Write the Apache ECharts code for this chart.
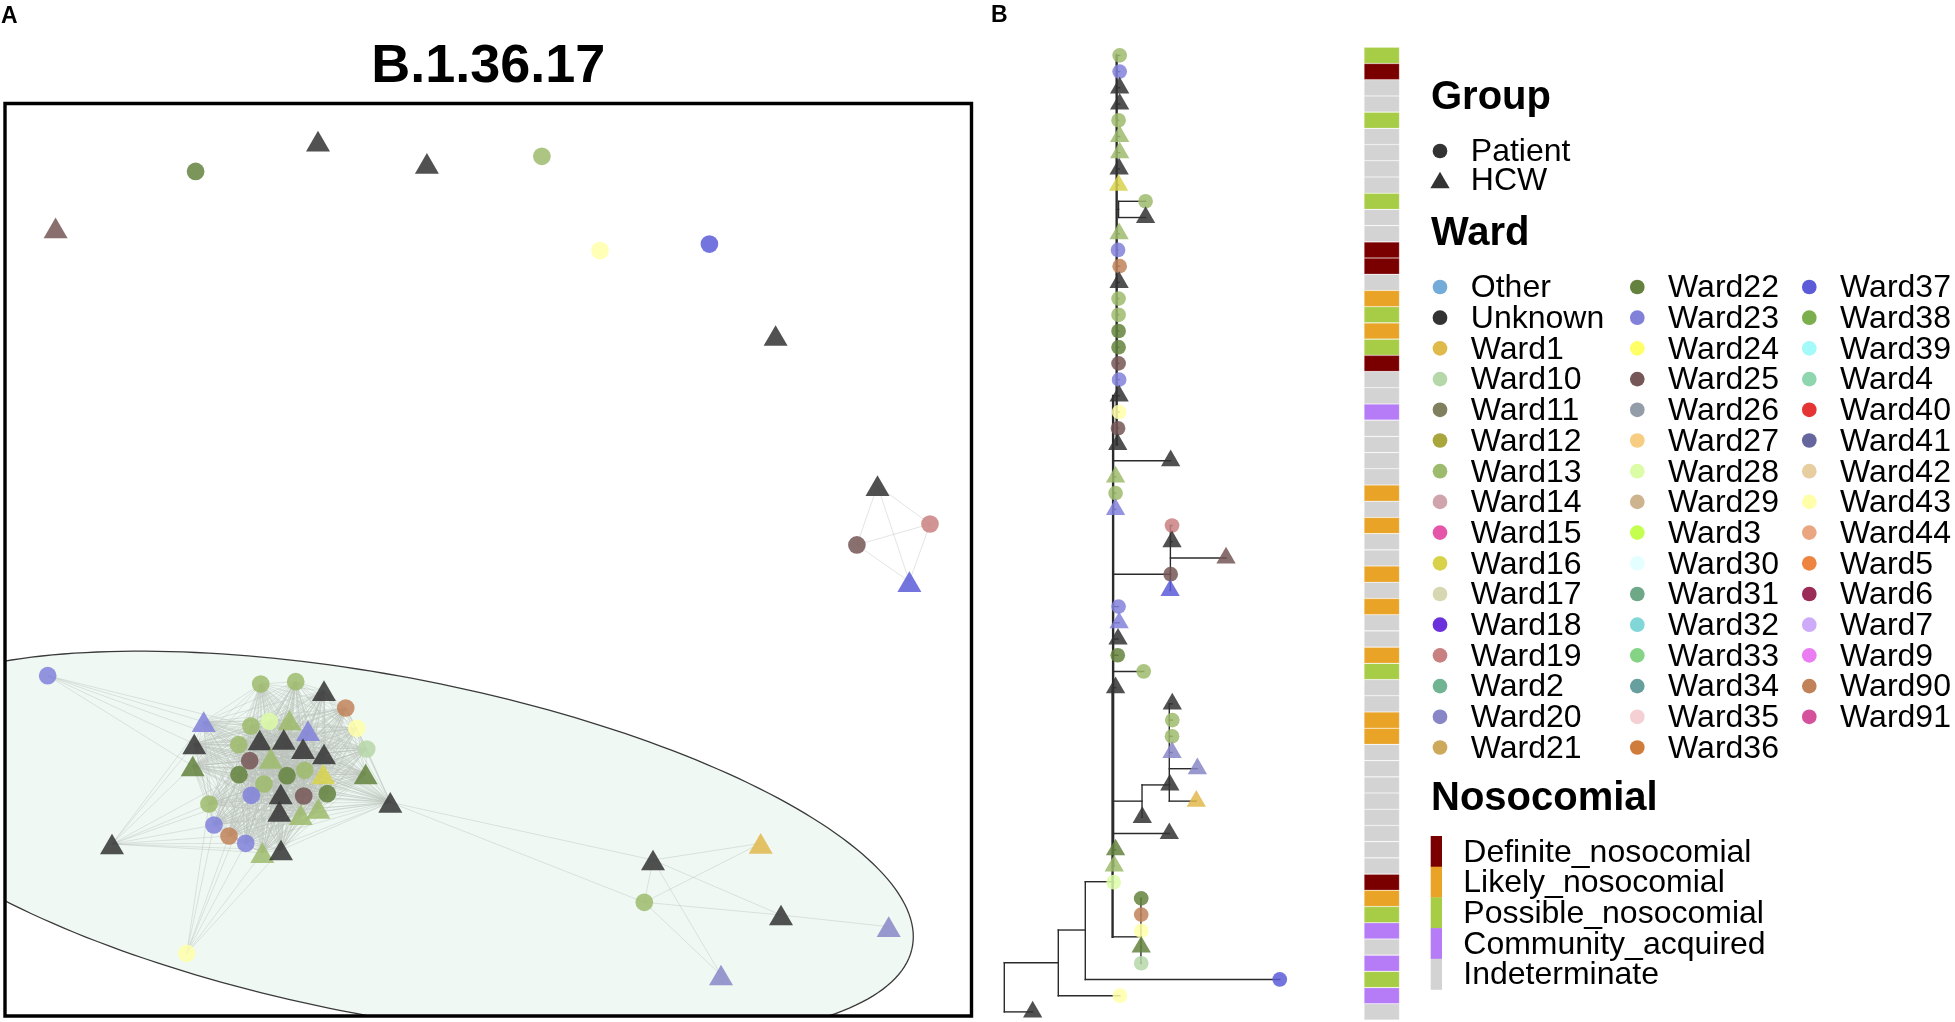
<!DOCTYPE html>
<html>
<head>
<meta charset="utf-8">
<title>B.1.36.17 network and tree</title>
<script src="https://cdn.jsdelivr.net/npm/echarts@6/dist/echarts.min.js"></script>
<style>
  html, body { margin: 0; padding: 0; background: #fff; }
  #main { width: 1955px; height: 1022px; }
</style>
</head>
<body>
<div id="main"></div>
<script>
// ---------- legend categories ----------
const wardNames = [
  'Other', 'Unknown', 'Ward1', 'Ward10', 'Ward11', 'Ward12', 'Ward13', 'Ward14', 'Ward15', 'Ward16',
  'Ward17', 'Ward18', 'Ward19', 'Ward2', 'Ward20', 'Ward21',
  'Ward22', 'Ward23', 'Ward24', 'Ward25', 'Ward26', 'Ward27', 'Ward28', 'Ward29', 'Ward3', 'Ward30',
  'Ward31', 'Ward32', 'Ward33', 'Ward34', 'Ward35', 'Ward36',
  'Ward37', 'Ward38', 'Ward39', 'Ward4', 'Ward40', 'Ward41', 'Ward42', 'Ward43', 'Ward44', 'Ward5',
  'Ward6', 'Ward7', 'Ward9', 'Ward90', 'Ward91'
];
const wardColors = [
  '#73acd9', '#333333', '#e0b94b', '#b6d7a8', '#80805f', '#a8a63d', '#9dbb6c', '#cfa4ac', '#e656a8', '#d8d24b',
  '#d7d7b1', '#6b2fdc', '#c98080', '#70b491', '#8787c7', '#cdaa5b',
  '#64823d', '#8181da', '#ffff66', '#765656', '#939ca9', '#f6cd81', '#dcfca7', '#cdb48f', '#c4ff4f', '#e3ffff',
  '#6ea887', '#81d7d7', '#85d486', '#679f9f', '#f4d0d5', '#d07d3b',
  '#5c5cd9', '#7baf4e', '#a4f9f9', '#8fd5ae', '#e53434', '#66669f', '#e6cea1', '#ffffa9', '#e9a681', '#ed8541',
  '#9b2b57', '#ceabf9', '#e97df1', '#c18259', '#d6519b'
];
const wardColumns = [16, 16, 15];
const groupNames = ['Patient', 'HCW'];
const nosoCodes = ['D', 'L', 'P', 'C', 'I'];
const nosoNames = ['Definite_nosocomial', 'Likely_nosocomial', 'Possible_nosocomial', 'Community_acquired', 'Indeterminate'];
const nosoColors = ['#7a0000', '#e9a326', '#a7cc45', '#b67cf7', '#d3d3d3'];

// ---------- panel A: network layout (layout units) ----------
const netX = [42.7, 255.7, 290.7, 319, 340.7, 198.7, 246, 264.3, 284.3, 351.7,
  303, 189.3, 233.7, 254.7, 278.7, 298, 319, 361.7, 187.7, 244.7,
  265.7, 234, 259, 282, 299.7, 318.3, 360.7, 246.3, 275.7, 298.7,
  322.3, 204, 274.3, 295.7, 313.3, 385.3, 107, 209, 224, 240.7,
  257.3, 276, 181.7, 648, 755.7, 639.3, 776, 883.7, 716,
  50.6, 190.6, 313, 421.9, 536.9, 595, 704.4, 770.6, 872.5, 925, 851.9, 904.4];
const netY = [572.2, 580.5, 578.2, 587.2, 604.5, 618.2, 622.5, 617.8, 616.5, 624.8,
  627.2, 640.5, 641.2, 636.5, 635.8, 645.2, 650.5, 645.5, 662.5, 657.2,
  654.8, 671.2, 680.5, 672.2, 666.8, 670.5, 670.5, 691.8, 690.5, 692.5,
  690.2, 700.5, 707.8, 711.2, 704.8, 698.8, 740.5, 721.5, 732.5, 739.8,
  749.2, 746.5, 849.8, 756.5, 739.8, 798.8, 811.5, 823.2, 871.5,
  124.3, 67.9, 37.7, 59.8, 52.8, 147.1, 140.6, 232, 382.2, 420.5, 441.4, 478.1];
const netWard = ['Ward23', 'Ward13', 'Ward13', 'Unknown', 'Ward90', 'Ward23', 'Ward13', 'Ward28', 'Ward13', 'Ward43',
  'Ward23', 'Unknown', 'Ward13', 'Unknown', 'Unknown', 'Unknown', 'Unknown', 'Ward10', 'Ward22', 'Ward25',
  'Ward13', 'Ward22', 'Ward13', 'Ward22', 'Ward13', 'Ward16', 'Ward22', 'Ward23', 'Unknown', 'Ward25',
  'Ward22', 'Ward13', 'Unknown', 'Ward13', 'Ward13', 'Unknown', 'Unknown', 'Ward23', 'Ward90', 'Ward23',
  'Ward13', 'Unknown', 'Ward43', 'Unknown', 'Ward1', 'Ward13', 'Unknown', 'Ward20', 'Ward20',
  'Ward25', 'Ward22', 'Unknown', 'Unknown', 'Ward13', 'Ward43', 'Ward37', 'Unknown', 'Unknown', 'Ward19', 'Ward25', 'Ward37'];
const netGroup = ['Patient', 'Patient', 'Patient', 'HCW', 'Patient', 'HCW', 'Patient', 'Patient', 'HCW', 'Patient',
  'HCW', 'HCW', 'Patient', 'HCW', 'HCW', 'HCW', 'HCW', 'Patient', 'HCW', 'Patient',
  'HCW', 'Patient', 'Patient', 'Patient', 'Patient', 'HCW', 'HCW', 'Patient', 'HCW', 'Patient',
  'Patient', 'Patient', 'HCW', 'HCW', 'HCW', 'HCW', 'HCW', 'Patient', 'Patient', 'Patient',
  'HCW', 'HCW', 'Patient', 'HCW', 'HCW', 'Patient', 'HCW', 'HCW', 'HCW',
  'HCW', 'Patient', 'HCW', 'HCW', 'Patient', 'Patient', 'Patient', 'HCW', 'HCW', 'Patient', 'Patient', 'HCW'];
// fully linked groups and single extra links (node indices)
const coreCluster = [1, 2, 3, 4, 5, 6, 7, 8, 9, 10, 11, 12, 13, 14, 15, 16, 17, 18, 19, 20,
  21, 22, 23, 24, 25, 26, 27, 28, 29, 30, 31, 32, 33, 34, 35, 37, 38, 39, 40, 41];
const smallCluster = [57, 58, 59, 60];
const extraLinks = [
  [0, 5], [0, 11], [0, 12], [0, 18], [0, 6],
  [36, 11], [36, 18], [36, 5], [36, 31], [36, 37], [36, 38], [36, 39], [36, 40], [36, 41], [36, 27], [36, 21],
  [42, 37], [42, 38], [42, 39], [42, 40], [42, 41], [42, 31], [42, 27],
  [35, 43], [35, 45], [43, 44], [43, 45], [43, 46], [43, 48], [45, 44], [45, 46], [45, 48], [46, 47]
];
// hull ellipse: centre, half width, half height of vertical chord, slope of chord midpoints
const ellCx = 380, ellCy = 742.6, ellW = 528.3, ellH = 172.6, ellK = 0.1715;

// ---------- panel B: tree ----------
const tipX = [4.23, 4.23, 4.23, 4.23, 4.19, 4.23, 4.23, 4.21, 4.19, 5.18,
  5.18, 4.21, 4.17, 4.23, 4.21, 4.19, 4.19, 4.19, 4.19, 4.19,
  4.21, 4.21, 4.21, 4.17, 4.16, 6.10, 4.08, 4.08, 4.08, 6.15,
  6.15, 8.13, 6.10, 6.08, 4.19, 4.21, 4.17, 4.16, 5.11, 4.08,
  6.16, 6.16, 6.15, 6.15, 7.08, 6.07, 7.04, 5.06, 6.05, 4.08,
  4.03, 4.01, 5.02, 5.02, 5.02, 5.02, 5.02, 10.10, 4.24, 1.04];
const tipWard = ['Ward13', 'Ward23', 'Unknown', 'Unknown', 'Ward13', 'Ward13', 'Ward13', 'Unknown', 'Ward16', 'Ward13',
  'Unknown', 'Ward13', 'Ward23', 'Ward90', 'Unknown', 'Ward13', 'Ward13', 'Ward22', 'Ward22', 'Ward25',
  'Ward23', 'Unknown', 'Ward43', 'Ward25', 'Unknown', 'Unknown', 'Ward13', 'Ward13', 'Ward23', 'Ward19',
  'Unknown', 'Ward25', 'Ward25', 'Ward37', 'Ward23', 'Ward23', 'Unknown', 'Ward22', 'Ward13', 'Unknown',
  'Unknown', 'Ward13', 'Ward13', 'Ward20', 'Ward20', 'Unknown', 'Ward1', 'Unknown', 'Unknown', 'Ward22',
  'Ward13', 'Ward28', 'Ward22', 'Ward90', 'Ward43', 'Ward22', 'Ward10', 'Ward37', 'Ward43', 'Unknown'];
const tipGroup = ['Patient', 'Patient', 'HCW', 'HCW', 'Patient', 'HCW', 'HCW', 'HCW', 'HCW', 'Patient',
  'HCW', 'HCW', 'Patient', 'Patient', 'HCW', 'Patient', 'Patient', 'Patient', 'Patient', 'Patient',
  'Patient', 'HCW', 'Patient', 'Patient', 'HCW', 'HCW', 'HCW', 'Patient', 'HCW', 'Patient',
  'HCW', 'HCW', 'Patient', 'HCW', 'Patient', 'HCW', 'HCW', 'Patient', 'Patient', 'HCW',
  'HCW', 'Patient', 'Patient', 'HCW', 'HCW', 'HCW', 'HCW', 'HCW', 'HCW', 'HCW',
  'HCW', 'Patient', 'Patient', 'Patient', 'Patient', 'HCW', 'Patient', 'Patient', 'Patient', 'HCW'];
const tipParent = ['T2', 'T2', 'T2', 'T2', 'T2', 'T2', 'T2', 'T2', 'T2', 'K',
  'K', 'T2', 'T2', 'T2', 'T2', 'T2', 'T2', 'T2', 'T2', 'T2',
  'T2', 'T2', 'T2', 'T2', 'T2', 'T', 'T', 'T', 'T', 'I',
  'I', 'I', 'I', 'I', 'T', 'T', 'T', 'T', 'T', 'T',
  'G', 'G', 'G', 'G', 'G', 'G', 'G', 'F', 'T', 'T',
  'T', 'C', 'D', 'D', 'D', 'D', 'D', 'B', 'A', 'R'];
const nodeIds = ['R', 'A', 'B', 'C', 'D', 'T', 'T2', 'K', 'I', 'F', 'G'];
const nodeParent = [null, 'R', 'A', 'B', 'C', 'C', 'T', 'T2', 'T', 'T', 'F'];
const nodeX = [0, 1.98, 2.97, 3.97, 5.01, 3.99, 4.12, 4.19, 6.09, 5.05, 6.05];
const nodeRow = [58.5, 56.97, 54.95, 51.97, 55.37, 40, 22, 10.5, 33, 47, 46];
const trunkNodes = ['T', 'T2', 'C'];

// nosocomial status per tree row (top to bottom)
const nosoRows = ['P', 'D', 'I', 'I', 'P', 'I', 'I', 'I', 'I', 'P',
  'I', 'I', 'D', 'D', 'I', 'L', 'P', 'L', 'P', 'D',
  'I', 'I', 'C', 'I', 'I', 'I', 'I', 'L', 'I', 'L',
  'I', 'I', 'L', 'I', 'L', 'I', 'I', 'L', 'P', 'I',
  'I', 'L', 'L', 'I', 'I', 'I', 'I', 'I', 'I', 'I',
  'I', 'D', 'L', 'P', 'C', 'I', 'C', 'P', 'C', 'I'];

// ---------- build ----------
const chart = echarts.init(document.getElementById('main'));
const FONT = '"Liberation Sans", Arial, Helvetica, sans-serif';
const colorOf = {};
wardNames.forEach((n, i) => { colorOf[n] = wardColors[i]; });

// panel A
const boxL = 5, boxT = 103.5, boxW = 966.5, boxH = 912.5;
const netNodes = netX.map((x, i) => {
  const hcw = netGroup[i] === 'HCW';
  return {
    value: [x, netY[i]],
    symbol: hcw ? 'triangle' : 'circle',
    symbolSize: hcw ? [24, 20.7] : 17.7,
    itemStyle: { color: colorOf[netWard[i]], opacity: 0.85 }
  };
});
const netLinks = [];
[coreCluster, smallCluster].forEach(c => {
  for (let a = 0; a < c.length; a++) {
    for (let b = a + 1; b < c.length; b++) netLinks.push({ source: c[a], target: c[b] });
  }
});
extraLinks.forEach(l => netLinks.push({ source: l[0], target: l[1] }));

// panel B tree segments
const treeLeft = 1004.3, treeTop = 47.3, treeW = 300, treeH = 972.7, treeMaxX = 11;
const nodeIdx = {};
nodeIds.forEach((id, i) => { nodeIdx[id] = i; });
const childRows = {};
const segs = [];
const segW = [];
tipX.forEach((x, i) => {
  const row = i + 1, p = tipParent[i];
  segs.push([nodeX[nodeIdx[p]], row, x, row]);
  segW.push(1.4);
  (childRows[p] = childRows[p] || []).push(row);
});
nodeIds.forEach((id, i) => {
  const p = nodeParent[i];
  if (!p) return;
  segs.push([nodeX[nodeIdx[p]], nodeRow[i], nodeX[i], nodeRow[i]]);
  segW.push(1.4);
  (childRows[p] = childRows[p] || []).push(nodeRow[i]);
});
nodeIds.forEach((id, i) => {
  const r = childRows[id];
  segs.push([nodeX[i], Math.min.apply(null, r), nodeX[i], Math.max.apply(null, r)]);
  segW.push(trunkNodes.indexOf(id) >= 0 ? 2.4 : 1.4);
});
const tipData = tipX.map((x, i) => {
  const hcw = tipGroup[i] === 'HCW';
  return {
    value: [x, i + 1],
    symbol: hcw ? 'triangle' : 'circle',
    symbolSize: hcw ? [19.3, 16.7] : 14.7,
    symbolOffset: hcw ? [0, -2.8] : [0, 0],
    itemStyle: { color: colorOf[tipWard[i]], opacity: 0.85 }
  };
});
const barLeft = 1364, barW = 35.5;
const barData = nosoRows.map(c => ({ value: 1, itemStyle: { color: nosoColors[nosoCodes.indexOf(c)] } }));

// graphics: labels, box, legends
const graphics = [];
function text(t, x, y, size, bold, align) {
  graphics.push({
    type: 'text', x: x, y: y, z: 110, silent: true,
    style: {
      text: t, fill: '#000', font: (bold ? 'bold ' : '') + size + 'px ' + FONT,
      textAlign: align || 'left', textVerticalAlign: 'middle',
      align: align || 'left', verticalAlign: 'middle'
    }
  });
}
function tri(cx, cy, w, h, color) {
  graphics.push({
    type: 'polygon', z: 110, silent: true,
    shape: { points: [[cx, cy - h / 2], [cx + w / 2, cy + h / 2], [cx - w / 2, cy + h / 2]] },
    style: { fill: color }
  });
}
function dot(cx, cy, r, color) {
  graphics.push({ type: 'circle', z: 110, silent: true, shape: { cx: cx, cy: cy, r: r }, style: { fill: color } });
}
graphics.push({
  type: 'rect', z: 105, silent: true,
  shape: { x: boxL, y: boxT, width: boxW, height: boxH },
  style: { fill: 'none', stroke: '#000', lineWidth: 3.4 }
});
text('A', 1, 16.2, 23, true);
text('B', 991, 15.5, 23, true);
text('B.1.36.17', boxL + boxW / 2, 67.5, 54, true, 'center');

const legX = 1431, symCols = [1440, 1637.3, 1809.3], txtGap = 30.8, rowH = 30.7, txtDy = 1.5;
text('Group', legX, 97.5, 40, true);
groupNames.forEach((g, i) => {
  const y = 151 + i * 29;
  if (g === 'HCW') tri(symCols[0], y, 19.3, 16.7, '#333333');
  else dot(symCols[0], y, 7.35, '#333333');
  text(g, symCols[0] + txtGap, y + txtDy, 32, false);
});
text('Ward', legX, 233.5, 40, true);
let wi = 0;
wardColumns.forEach((n, c) => {
  for (let r = 0; r < n; r++, wi++) {
    const y = 287 + r * rowH;
    dot(symCols[c], y, 7.35, wardColors[wi]);
    text(wardNames[wi], symCols[c] + txtGap, y + txtDy, 32, false);
  }
});
text('Nosocomial', legX, 799.3, 40, true);
nosoNames.forEach((n, i) => {
  const top = 836 + i * rowH;
  graphics.push({
    type: 'rect', z: 110, silent: true,
    shape: { x: 1430.7, y: top, width: 11.3, height: rowH + 0.3 },
    style: { fill: nosoColors[i] }
  });
  text(n, 1463.3, top + rowH / 2 + txtDy, 32, false);
});

chart.setOption({
  animation: false,
  backgroundColor: '#fff',
  grid: [
    { left: boxL, top: boxT, width: boxW, height: boxH, show: false },
    { left: treeLeft, top: treeTop, width: treeW, height: treeH, show: false },
    { left: barLeft, top: treeTop, width: barW, height: treeH, show: false }
  ],
  xAxis: [
    { type: 'value', gridIndex: 0, min: 0, max: boxW, show: false },
    { type: 'value', gridIndex: 1, min: 0, max: treeMaxX, show: false },
    { type: 'value', gridIndex: 2, min: 0, max: 1, show: false }
  ],
  yAxis: [
    { type: 'value', gridIndex: 0, min: 0, max: boxH, inverse: true, show: false },
    { type: 'value', gridIndex: 1, min: 0.5, max: 60.5, inverse: true, show: false },
    { type: 'category', gridIndex: 2, inverse: true, show: false, data: nosoRows.map((c, i) => String(i + 1)) }
  ],
  series: [
    {
      type: 'custom', xAxisIndex: 0, yAxisIndex: 0, clip: true, silent: true, z: 1,
      data: [[ellCx, ellCy]],
      renderItem: function (params, api) {
        const pts = [];
        for (let s = 0; s < 240; s++) {
          const t = s / 240 * Math.PI * 2;
          const dx = ellW * Math.cos(t);
          const dy = ellK * dx + ellH * Math.sin(t);
          pts.push(api.coord([api.value(0) + dx, api.value(1) + dy]));
        }
        const cs = params.coordSys;
        return {
          type: 'polygon', shape: { points: pts },
          style: { fill: '#eff8f3', stroke: '#3a3a3a', lineWidth: 1.3 },
          clipPath: { type: 'rect', shape: { x: cs.x, y: cs.y, width: cs.width, height: cs.height } }
        };
      }
    },
    {
      type: 'graph', coordinateSystem: 'cartesian2d', xAxisIndex: 0, yAxisIndex: 0,
      layout: 'none', silent: true, z: 3,
      data: netNodes, links: netLinks,
      label: { show: false },
      lineStyle: { color: '#b9c0ba', width: 0.7, opacity: 0.6, curveness: 0 }
    },
    {
      type: 'custom', xAxisIndex: 1, yAxisIndex: 1, silent: true, z: 3,
      data: segs, encode: { x: [0, 2], y: [1, 3] },
      renderItem: function (params, api) {
        const a = api.coord([api.value(0), api.value(1)]);
        const b = api.coord([api.value(2), api.value(3)]);
        return {
          type: 'line', shape: { x1: a[0], y1: a[1], x2: b[0], y2: b[1] },
          style: { stroke: '#2b2b2b', lineWidth: segW[params.dataIndex], lineCap: 'square' }
        };
      }
    },
    {
      type: 'scatter', xAxisIndex: 1, yAxisIndex: 1, silent: true, z: 4,
      data: tipData
    },
    {
      type: 'bar', xAxisIndex: 2, yAxisIndex: 2, silent: true, z: 3,
      barWidth: '100%', barCategoryGap: '0%',
      data: barData,
      itemStyle: { borderColor: 'rgba(255,255,255,0.35)', borderWidth: 0.6 }
    }
  ],
  graphic: graphics
});
</script>
</body>
</html>
